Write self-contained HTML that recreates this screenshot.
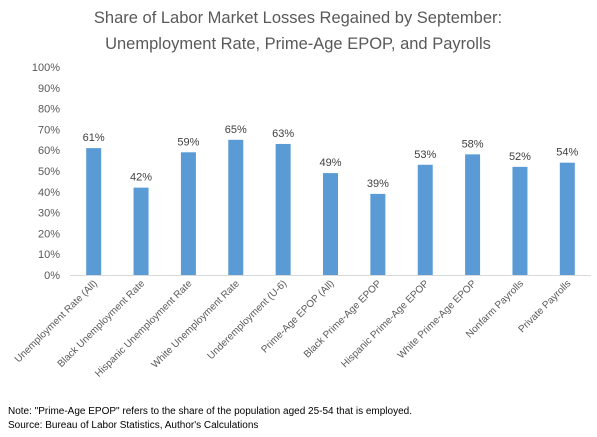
<!DOCTYPE html>
<html><head><meta charset="utf-8"><style>
body{margin:0;background:#fff;}
svg{display:block;font-family:"Liberation Sans",sans-serif;}
</style></head><body>
<svg id="c" width="597" height="437">
<text x="298" y="23" text-anchor="middle" font-size="16.5" fill="#595959">Share of Labor Market Losses Regained by September:</text>
<text x="298" y="49" text-anchor="middle" font-size="16.5" fill="#595959">Unemployment Rate, Prime-Age EPOP, and Payrolls</text>
<g id="g"></g>
<text x="8" y="414" font-size="10" fill="#000">Note: "Prime-Age EPOP" refers to the share of the population aged 25-54 that is employed.</text>
<text x="8" y="428" font-size="10" fill="#000">Source: Bureau of Labor Statistics, Author's Calculations</text>
</svg>
<script>
const categories=["Unemployment Rate (All)","Black Unemployment Rate","Hispanic Unemployment Rate","White Unemployment Rate","Underemployment (U-6)","Prime-Age EPOP (All)","Black Prime-Age EPOP","Hispanic Prime-Age EPOP","White Prime-Age EPOP","Nonfarm Payrolls","Private Payrolls"];
const values=[61,42,59,65,63,49,39,53,58,52,54];
const ticks=[0,10,20,30,40,50,60,70,80,90,100];
const NS="http://www.w3.org/2000/svg";
const g=document.getElementById('g');
const x0=70,x1=591,yTop=67,yBot=275;
const y=v=>yBot-(v/100)*(yBot-yTop);
const step=(x1-x0)/categories.length;
const xc=i=>x0+step*(i+0.5);
function mk(t,a){const e=document.createElementNS(NS,t);for(const k in a)e.setAttribute(k,a[k]);g.appendChild(e);return e;}
ticks.forEach(t=>{
 const e=mk('text',{x:60,y:y(t)+4,'text-anchor':'end','font-size':11,fill:'#595959'});
 e.textContent=t+'%';
 
 
});
const ax=mk('line',{x1:x0,x2:x1,y1:yBot+0.5,y2:yBot+0.5,stroke:'#d9d9d9'});


values.forEach((v,i)=>{
 const r=mk('rect',{x:xc(i)-7.5,y:y(v),width:15,height:yBot-y(v),fill:'#5b9bd5'});
 
 
 const l=mk('text',{x:xc(i),y:y(v)-7,'text-anchor':'middle','font-size':11,fill:'#404040'});
 l.textContent=v+'%';
 
 
 const c=mk('text',{x:0,y:0,'text-anchor':'end','font-size':10,fill:'#595959',transform:`translate(${xc(i)+4},${yBot+9}) rotate(-45)`});
 c.textContent=categories[i];
 
 
});
</script>
</body></html>
